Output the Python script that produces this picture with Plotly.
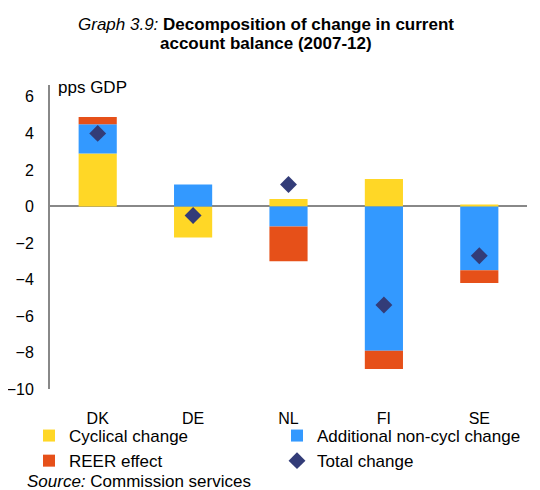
import plotly.graph_objects as go

countries = ["DK", "DE", "NL", "FI", "SE"]
cyclical = [2.9, -1.7, 0.4, 1.5, 0.1]
non_cycl = [1.6, 1.2, -1.1, -7.9, -3.5]
reer = [0.4, 0.0, -1.9, -1.0, -0.7]
total = [4.0, -0.5, 1.2, -5.4, -2.7]
y_ticks = [-10, -8, -6, -4, -2, 0, 2, 4, 6]

FONT = "Arial, Liberation Sans, sans-serif"
YELLOW = "#FFD726"
BLUE = "#3399FF"
RED = "#E65019"
NAVY = "#333C78"

# page has an 8px body margin, so the figure is drawn 8px smaller
W, H = 532, 482
L, R, T, B = 42, 13, 77, 101
PW, PH = W - L - R, H - T - B

def px(xf):
    return (xf - L) / PW

def py(yf):
    return (H - B - yf) / PH

fig = go.Figure()
fig.add_trace(go.Bar(x=countries, y=cyclical, name="Cyclical change", legend="legend",
                     marker=dict(color=YELLOW, line=dict(width=0))))
fig.add_trace(go.Bar(x=countries, y=non_cycl, name="Additional non-cycl change", legend="legend2",
                     marker=dict(color=BLUE, line=dict(width=0))))
fig.add_trace(go.Bar(x=countries, y=reer, name="REER effect", legend="legend",
                     marker=dict(color=RED, line=dict(width=0))))
fig.add_trace(go.Scatter(x=countries, y=total, name="Total change", mode="markers", legend="legend2",
                         marker=dict(symbol="diamond", size=13, color=NAVY)))

leg_common = dict(orientation="v", xref="container", yref="container",
                  xanchor="left", yanchor="top", font=dict(size=17),
                  bgcolor="rgba(0,0,0,0)", itemclick=False, itemdoubleclick=False,
                  traceorder="normal")

fig.update_layout(
    width=W, height=H,
    margin=dict(l=L, r=R, t=T, b=B, autoexpand=False),
    paper_bgcolor="white", plot_bgcolor="white",
    barmode="relative", bargap=0.6,
    font=dict(family=FONT, size=17, color="black"),
    showlegend=True,
    legend=dict(x=21 / W, y=1 - 410 / H, **leg_common),
    legend2=dict(x=269 / W, y=1 - 410 / H, **leg_common),
    xaxis=dict(showline=False, showgrid=False, ticks="", automargin=False,
               tickfont=dict(size=16), ticklabelstandoff=18),
    yaxis=dict(range=[-10, 6.65], tickvals=y_ticks, showgrid=False, automargin=False,
               showline=True, linecolor="#888888", linewidth=2,
               zeroline=True, zerolinecolor="#888888", zerolinewidth=2,
               ticks="", tickfont=dict(size=16), ticklabelstandoff=11),
)

fig.add_annotation(xref="paper", yref="paper", x=px(258), y=py(17), xanchor="center", yanchor="middle",
                   text="<i>Graph 3.9:</i> <b>Decomposition of change in current</b>",
                   showarrow=False, font=dict(size=17))
fig.add_annotation(xref="paper", yref="paper", x=px(258), y=py(35), xanchor="center", yanchor="middle",
                   text="<b>account balance (2007-12)</b>",
                   showarrow=False, font=dict(size=17))
fig.add_annotation(xref="paper", yref="paper", x=px(48), y=py(80), xanchor="left", yanchor="middle",
                   text="pps GDP", showarrow=False, font=dict(size=17))
fig.add_annotation(xref="paper", yref="paper", x=px(17), y=py(473), xanchor="left", yanchor="middle",
                   text="<i>Source:</i> Commission services", showarrow=False, font=dict(size=17))

fig.write_html("out.html")
